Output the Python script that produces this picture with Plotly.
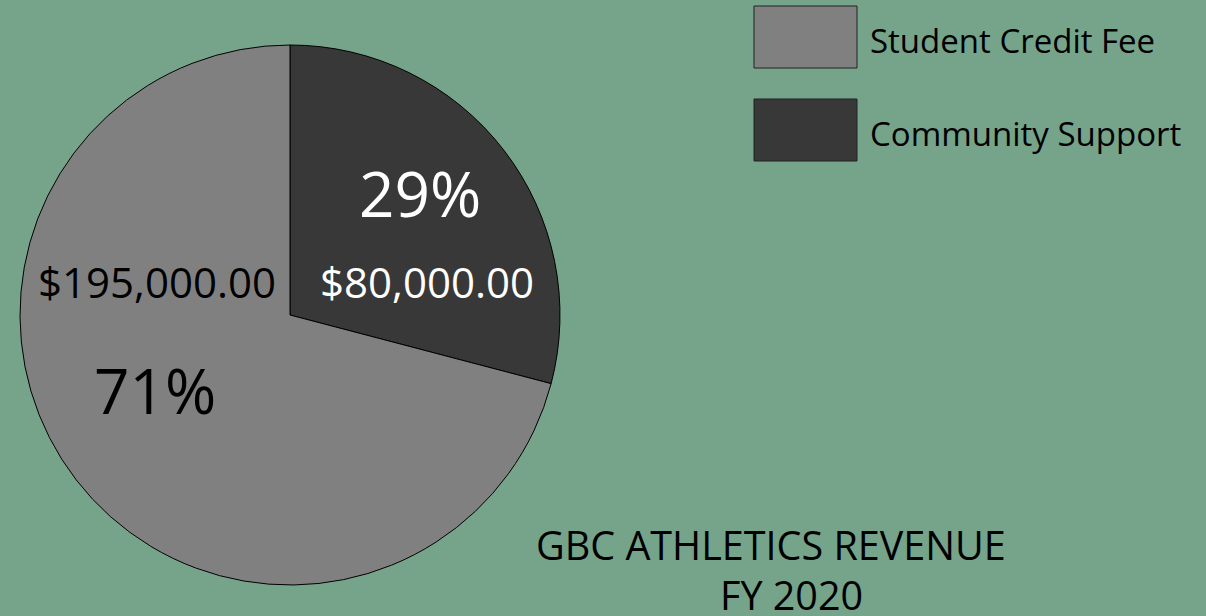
"""GBC athletics revenue pie, FY 2020"""

import plotly.graph_objects as go

# data
labels = ["Student Credit Fee", "Community Support"]
revenue = [195000, 80000]
slice_colors = ["#808080", "#383838"]
label_colors = ["black", "white"]
title_lines = ["GBC ATHLETICS REVENUE", "FY 2020"]

BG = "#75A48B"
FONT = "Open Sans"
W, H = 1206, 616

total = sum(revenue)
pct = [round(v / total * 100) for v in revenue]
money = ["${:,.2f}".format(v) for v in revenue]

# community support goes first, clockwise from 12 o'clock
fig = go.Figure(
    go.Pie(
        labels=labels[::-1],
        values=revenue[::-1],
        sort=False,
        direction="clockwise",
        marker=dict(colors=slice_colors[::-1], line=dict(color="black", width=1)),
        textinfo="none",
        hoverinfo="label+value+percent",
        showlegend=False,
        domain=dict(x=[20 / W, 560 / W], y=[31 / H, 571 / H]),
    )
)


def px_ann(x, y, text, size, color="black"):
    fig.add_annotation(
        x=x / W,
        y=1 - y / H,
        xref="paper",
        yref="paper",
        text=text,
        showarrow=False,
        xanchor="center",
        yanchor="middle",
        font=dict(family=FONT, size=size, color=color),
    )


# slice labels (percent + dollar amount)
px_ann(157, 281, money[0], 42, label_colors[0])
px_ann(155, 390, f"{pct[0]}%", 62, label_colors[0])
px_ann(420, 193, f"{pct[1]}%", 62, label_colors[1])
px_ann(427, 281, money[1], 42, label_colors[1])

# legend drawn by hand to get the big swatches
for i, (lab, col) in enumerate(zip(labels, slice_colors)):
    y0 = 6 + i * 93
    fig.add_shape(
        type="rect",
        xref="paper",
        yref="paper",
        x0=754 / W,
        x1=857 / W,
        y0=1 - (y0 + 62) / H,
        y1=1 - y0 / H,
        fillcolor=col,
        line=dict(color="#222222", width=1),
    )
    fig.add_annotation(
        x=868 / W,
        y=1 - (y0 + 34) / H,
        xref="paper",
        yref="paper",
        text=lab,
        showarrow=False,
        xanchor="left",
        yanchor="middle",
        font=dict(family=FONT, size=33, color="black"),
    )

# title in the lower right
px_ann(771, 545, title_lines[0], 39.5)
px_ann(791, 595, title_lines[1], 39.5)

fig.update_layout(
    width=W,
    height=H,
    margin=dict(t=0, l=0, r=0, b=0),
    paper_bgcolor=BG,
    plot_bgcolor=BG,
    font=dict(family=FONT),
)

fig.write_html(
    "out.html",
    config={"displayModeBar": False},
    post_script="document.body.style.margin='0';document.body.style.overflow='hidden';",
)
